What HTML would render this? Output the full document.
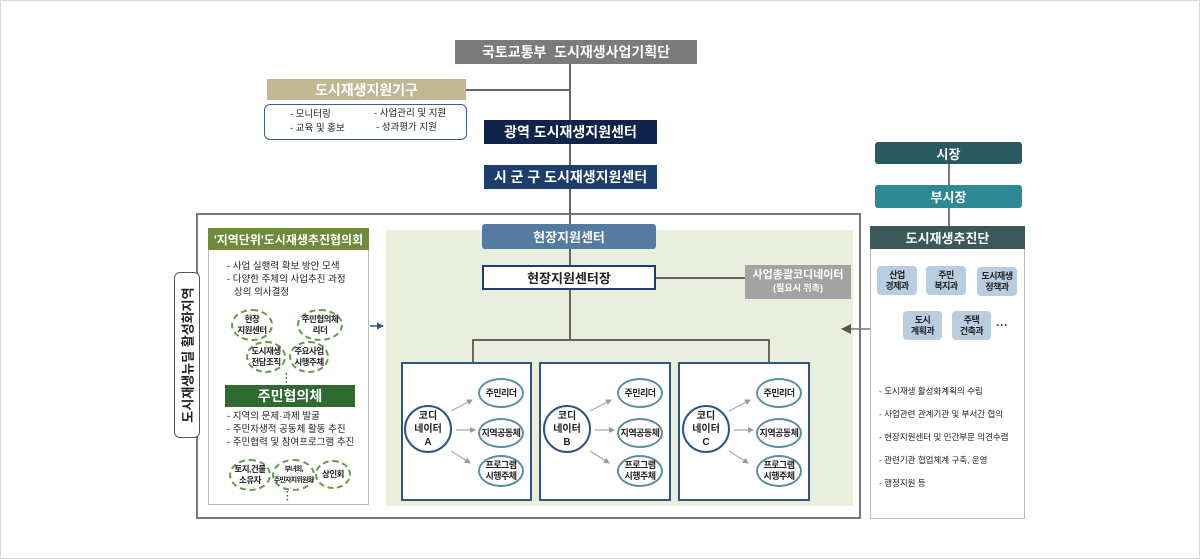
<!DOCTYPE html>
<html><head><meta charset="utf-8"><style>
*{margin:0;padding:0;box-sizing:border-box}
body{width:1200px;height:559px;background:#fff;position:relative;overflow:hidden;font-family:"Liberation Sans","Noto Sans CJK KR",sans-serif;color:#222}
.frame{position:absolute;left:0;top:0;width:1200px;height:559px;border:1px solid #d8d8d8}
.a{position:absolute}
.bx{position:absolute;display:flex;align-items:center;justify-content:center;text-align:center;color:#fff;font-weight:bold}
.ln{position:absolute;background:#666}
.ov{position:absolute;border:2px dashed #6a9a4a;border-radius:50%;display:flex;align-items:center;justify-content:center;text-align:center;font-size:8.5px;font-weight:bold;line-height:11px;background:#fff;white-space:nowrap;letter-spacing:-0.5px}
.el{position:absolute;border:2.5px solid #5a8fa0;border-radius:50%;display:flex;align-items:center;justify-content:center;text-align:center;font-size:9px;font-weight:bold;line-height:11px;background:#fff;white-space:nowrap;letter-spacing:-0.5px}
.cb{position:absolute;background:#fff;border:2px solid #2d5585}
.cc{position:absolute;border:2.5px solid #2d5585;border-radius:50%;display:flex;align-items:center;justify-content:center;text-align:center;font-size:10px;font-weight:bold;line-height:13px;background:#fff}
.chip{position:absolute;background:#b8cde0;border-radius:4px;display:flex;align-items:center;justify-content:center;text-align:center;font-size:9px;font-weight:bold;line-height:11px;color:#222;white-space:nowrap;letter-spacing:-0.5px}
.t{position:absolute;font-size:9.5px;line-height:13px;white-space:nowrap}
</style></head><body>
<div class="frame"></div>
<div class="ln" style="left:569px;top:64px;width:1.5px;height:276px"></div>
<div class="ln" style="left:466px;top:89px;width:104px;height:1.5px"></div>
<div class="bx" style="left:455px;top:40px;width:242px;height:24px;background:#7b7b7b;font-size:14px">국토교통부 &nbsp;도시재생사업기획단</div>
<div class="bx" style="left:267px;top:79px;width:199px;height:21px;background:#c3b793;font-size:14px">도시재생지원기구</div>
<div class="a" style="left:264px;top:104px;width:203px;height:36px;border:1.5px solid #3a6090;border-radius:6px;background:#fff"></div>
<div class="t" style="left:290px;top:108px">- 모니터링</div>
<div class="t" style="left:290px;top:122px">- 교육 및 홍보</div>
<div class="t" style="left:374px;top:107px">- 사업관리 및 지원</div>
<div class="t" style="left:376px;top:121px">- 성과평가 지원</div>
<div class="bx" style="left:484px;top:120px;width:173px;height:24px;background:#0f2448;font-size:14px">광역 도시재생지원센터</div>
<div class="bx" style="left:484px;top:165px;width:173px;height:24px;background:#1d3e6c;font-size:14px">시 군 구 도시재생지원센터</div>
<div class="a" style="left:196px;top:213px;width:665px;height:306px;border:2px solid #777"></div>
<div class="a" style="left:386px;top:230px;width:467px;height:276px;background:#eaeedc"></div>
<div class="ln" style="left:569px;top:213px;width:1.5px;height:127px"></div>
<div class="bx" style="left:482px;top:224px;width:174px;height:25px;background:#547ba2;font-size:13px;border-radius:3px">현장지원센터</div>
<div class="bx" style="left:482px;top:265px;width:174px;height:25px;background:#fff;border:2px solid #1e3e6e;color:#222;font-size:13px">현장지원센터장</div>
<div class="ln" style="left:656px;top:277px;width:90px;height:1.5px"></div>
<div class="bx" style="left:745px;top:265px;width:106px;height:34px;background:#a3a3a3;font-size:11px;line-height:13px;flex-direction:column">사업총괄코디네이터<span style="font-size:9px">(필요시 위촉)</span></div>
<div class="ln" style="left:472px;top:339px;width:297px;height:1.5px"></div>
<div class="ln" style="left:472px;top:339px;width:1.5px;height:23px"></div>
<div class="ln" style="left:768px;top:339px;width:1.5px;height:23px"></div>
<div class="cb" style="left:401px;top:362px;width:131px;height:139px"></div>
<div class="cb" style="left:539px;top:362px;width:132px;height:139px"></div>
<div class="cb" style="left:678px;top:362px;width:132px;height:139px"></div>
<svg class="a" style="left:0;top:0" width="1200" height="559">
<defs><marker id="m" markerWidth="6" markerHeight="6" refX="5" refY="3" orient="auto" markerUnits="userSpaceOnUse"><path d="M0,0 L6,3 L0,6z" fill="#999"/></marker>
<marker id="m2" markerWidth="10" markerHeight="10" refX="9" refY="5" orient="auto" markerUnits="userSpaceOnUse"><path d="M0,0 L10,5 L0,10z" fill="#555"/></marker>
<marker id="m3" markerWidth="7" markerHeight="7" refX="6" refY="3.5" orient="auto" markerUnits="userSpaceOnUse"><path d="M0,0 L7,3.5 L0,7z" fill="#2d5585"/></marker></defs>
<g stroke="#aaa" stroke-width="1.2" marker-end="url(#m)">
<line x1="451" y1="411" x2="472" y2="400"/><line x1="456" y1="430" x2="475" y2="430"/><line x1="451" y1="451" x2="470" y2="463"/>
<line x1="590" y1="411" x2="611" y2="400"/><line x1="595" y1="430" x2="614" y2="430"/><line x1="590" y1="451" x2="609" y2="463"/>
<line x1="729" y1="411" x2="750" y2="400"/><line x1="734" y1="430" x2="753" y2="430"/><line x1="729" y1="451" x2="748" y2="463"/>
</g>
<line x1="882" y1="329" x2="842" y2="329" stroke="#777" stroke-width="1.5" marker-end="url(#m2)"/>
<line x1="370" y1="326" x2="383" y2="326" stroke="#2d5585" stroke-width="1.5" marker-end="url(#m3)"/>
</svg>
<div class="cc" style="left:404px;top:405px;width:48px;height:48px">코디<br>네이터<br>A</div>
<div class="cc" style="left:543px;top:405px;width:48px;height:48px">코디<br>네이터<br>B</div>
<div class="cc" style="left:682px;top:405px;width:48px;height:48px">코디<br>네이터<br>C</div>
<div class="el" style="left:478px;top:378px;width:46px;height:30px">주민리더</div>
<div class="el" style="left:478px;top:418px;width:46px;height:30px">지역공동체</div>
<div class="el" style="left:478px;top:455px;width:46px;height:32px">프로그램<br>시행주체</div>
<div class="el" style="left:617px;top:378px;width:46px;height:30px">주민리더</div>
<div class="el" style="left:617px;top:418px;width:46px;height:30px">지역공동체</div>
<div class="el" style="left:617px;top:455px;width:46px;height:32px">프로그램<br>시행주체</div>
<div class="el" style="left:756px;top:378px;width:46px;height:30px">주민리더</div>
<div class="el" style="left:756px;top:418px;width:46px;height:30px">지역공동체</div>
<div class="el" style="left:756px;top:455px;width:46px;height:32px">프로그램<br>시행주체</div>
<div class="a" style="left:174px;top:272px;width:26px;height:166px;border:1.5px solid #555;border-radius:6px;background:#fff"></div>
<div class="a" style="left:187px;top:355px;transform:translate(-50%,-50%) rotate(-90deg);font-size:13px;font-weight:bold;white-space:nowrap">도시재생뉴딜 활성화지역</div>
<div class="a" style="left:208px;top:228px;width:161px;height:277px;border:1.5px solid #bbb;background:#fff"></div>
<div class="bx" style="left:208px;top:228px;width:161px;height:22px;background:#6f8b3a;font-size:12px">'지역단위'도시재생추진협의회</div>
<div class="t" style="left:227px;top:260px">- 사업 실행력 확보 방안 모색</div>
<div class="t" style="left:227px;top:273px">- 다양한 주체의 사업추진 과정</div>
<div class="t" style="left:234px;top:286px">상의 의사결정</div>
<div class="ov" style="left:231px;top:309px;width:42px;height:32px">현장<br>지원센터</div>
<div class="ov" style="left:297px;top:309px;width:46px;height:32px">주민협의체<br>리더</div>
<div class="ov" style="left:246px;top:341px;width:40px;height:32px">도시재생<br>전담조직</div>
<div class="ov" style="left:289px;top:341px;width:40px;height:32px">주요사업<br>시행주체</div>
<div class="a" style="left:285px;top:373px;font-size:10px;color:#2a6a2a;line-height:4px;font-weight:bold">·<br>·<br>·</div>
<div class="bx" style="left:225px;top:385px;width:130px;height:22px;background:#2f6a30;font-size:14px">주민협의체</div>
<div class="t" style="left:227px;top:410px">- 지역의 문제·과제 발굴</div>
<div class="t" style="left:227px;top:423px">- 주민자생적 공동체 활동 추진</div>
<div class="t" style="left:227px;top:436px">- 주민협력 및 참여프로그램 추진</div>
<div class="ov" style="left:229px;top:459px;width:42px;height:32px">토지,건물<br>소유자</div>
<div class="ov" style="left:272px;top:459px;width:43px;height:32px;font-size:7px;letter-spacing:-0.8px">부녀회,<br>주민자치위원회</div>
<div class="ov" style="left:315px;top:460px;width:36px;height:29px">상인회</div>
<div class="a" style="left:286px;top:491px;font-size:10px;color:#2a6a2a;line-height:4px;font-weight:bold">·<br>·<br>·</div>
<div class="ln" style="left:948px;top:164px;width:1.5px;height:62px;background:#777"></div>
<div class="bx" style="left:875px;top:142px;width:147px;height:22px;background:#285a60;font-size:13px;border-radius:3px">시장</div>
<div class="bx" style="left:875px;top:185px;width:147px;height:23px;background:#2f8995;font-size:13px;border-radius:3px">부시장</div>
<div class="a" style="left:870px;top:226px;width:155px;height:293px;border:1.5px solid #bbb;background:#fff"></div>
<div class="bx" style="left:870px;top:226px;width:155px;height:23px;background:#3c5959;font-size:13px">도시재생추진단</div>
<div class="chip" style="left:877px;top:266px;width:40px;height:29px">산업<br>경제과</div>
<div class="chip" style="left:926px;top:266px;width:40px;height:29px">주민<br>복지과</div>
<div class="chip" style="left:977px;top:267px;width:40px;height:29px">도시재생<br>정책과</div>
<div class="chip" style="left:903px;top:311px;width:39px;height:29px">도시<br>계획과</div>
<div class="chip" style="left:952px;top:311px;width:39px;height:29px">주택<br>건축과</div>
<div class="a" style="left:996px;top:318px;font-size:12px;color:#1d3e6c;font-weight:bold">···</div>
<div class="t" style="left:879px;top:385px;font-size:8.5px">- 도시재생 활성화계획의 수립</div>
<div class="t" style="left:879px;top:408px;font-size:8.5px">- 사업관련 관계기관 및 부서간 협의</div>
<div class="t" style="left:879px;top:431px;font-size:8.5px">- 현장지원센터 및 민간부문 의견수렴</div>
<div class="t" style="left:879px;top:454px;font-size:8.5px">- 관련기관 협업체계 구축, 운영</div>
<div class="t" style="left:879px;top:477px;font-size:8.5px">- 행정지원 등</div>
</body></html>
